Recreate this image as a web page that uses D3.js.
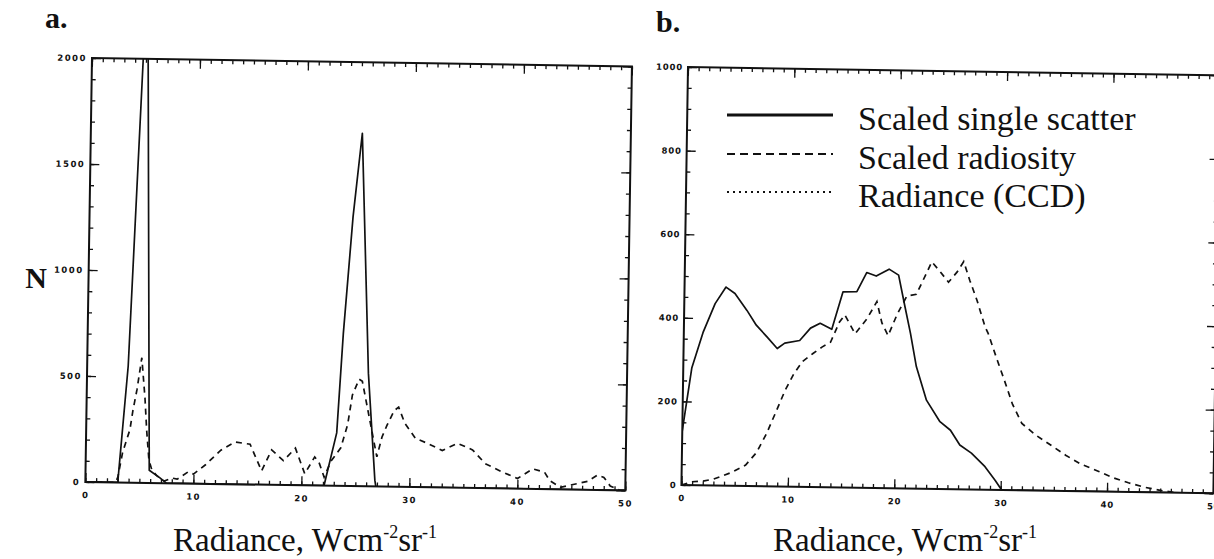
<!DOCTYPE html>
<html>
<head>
<meta charset="utf-8">
<script src="https://cdn.jsdelivr.net/npm/d3@7"></script>
<style>
  html, body { margin: 0; padding: 0; background: #fff; }
  svg { display: block; }
</style>
</head>
<body>
<div id="chart"></div>
<script>
// ---------------- DATA ----------------
const xMajorTicks = [0, 10, 20, 30, 40, 50];
const aYTicks = [0, 500, 1000, 1500, 2000];
const bYTicks = [0, 200, 400, 600, 800, 1000];
const legendLabels = ["Scaled single scatter", "Scaled radiosity", "Radiance (CCD)"];

// Panel a: [radiance, N]
const aSingleScatter = [
  [0, 0], [3.0, 0], [3.8, 550], [5.04, 2450], [5.9, 60], [6.9, 25], [7.5, 0],
  [22.1, 0], [23.2, 250], [23.67, 720], [24.4, 1270], [25.14, 1665], [26.05, 533],
  [26.8, 30], [26.9, 0], [50, 0]
];
const aRadiosity = [
  [0, 0], [2.8, 0], [3.0, 25], [3.4, 140], [4.05, 250], [4.3, 340], [4.65, 440], [5.05, 590],
  [5.4, 400], [5.6, 250], [5.85, 110], [6.15, 60], [6.6, 35], [7.3, 10], [8.0, 25], [8.5, 20],
  [9.5, 55], [10.0, 45], [11.1, 90], [12.5, 160], [13.8, 200], [15.2, 190], [16.3, 65],
  [17.2, 165], [18.3, 115], [19.4, 175], [20.3, 55], [21.2, 135], [21.6, 110], [22.1, 40],
  [22.7, 115], [23.6, 180], [24.2, 290], [24.6, 430], [25.2, 505], [25.5, 495], [26.95, 140],
  [27.4, 234], [27.85, 290], [28.5, 360], [28.9, 376], [29.5, 300], [30.5, 230], [31.6, 208],
  [33.0, 175], [34.4, 210], [35.8, 180], [37.0, 116], [38.5, 80], [40.0, 48], [41.4, 95],
  [42.5, 80], [43.0, 40], [44.0, 10], [46.5, 40], [47.4, 70], [48.0, 60], [48.6, 20],
  [49.5, 0], [50, 0]
];

// Panel b
const bSingleScatter = [
  [0, 130], [0.8, 280], [1.8, 365], [2.9, 435], [3.9, 475], [4.75, 460], [5.9, 420],
  [6.8, 385], [7.8, 358], [8.8, 330], [9.5, 343], [10.9, 350], [11.9, 380], [12.8, 392],
  [13.9, 378], [14.9, 468], [16.2, 469], [17.1, 515], [18.0, 507], [19.2, 524], [20.1, 510],
  [20.75, 434], [21.3, 371], [21.9, 292], [22.9, 212], [24.2, 161], [25.2, 141], [26.1, 106],
  [27.2, 87], [28.5, 55], [29.5, 22], [30.1, 0], [50, 0]
];
const bRadiosity = [
  [0, 0], [1, 8], [2, 10], [3, 15], [4.7, 32], [6.0, 50], [7.0, 80], [7.9, 125], [8.8, 180],
  [9.6, 230], [10.4, 270], [11.2, 300], [12.2, 320], [13.0, 335], [13.8, 347], [14.6, 395],
  [15.1, 413], [16.1, 368], [17.2, 405], [18.1, 446], [18.6, 395], [19.2, 365], [20.0, 415],
  [20.9, 460], [21.8, 465], [22.7, 515], [23.2, 543], [24.0, 520], [24.8, 495], [25.6, 520],
  [26.2, 545], [26.8, 500], [27.5, 453], [28.3, 390], [28.6, 374], [29.5, 310], [30.2, 262],
  [31.0, 205], [31.9, 160], [33.2, 133], [34.6, 110], [36.1, 85], [37.5, 65], [39.2, 48],
  [40.5, 34], [42.0, 22], [43.5, 12], [45.0, 5], [46.5, 0], [50, 0]
];

// ---------------- DRAW ----------------
const W = 1214, H = 559;
const INK = "#111";
const svg = d3.select("#chart").append("svg")
  .attr("width", W).attr("height", H)
  .attr("viewBox", `0 0 ${W} ${H}`);
svg.append("rect").attr("width", W).attr("height", H).attr("fill", "#fff");

function drawPanel(cfg) {
  const g = svg.append("g")
    .attr("transform", `translate(${cfg.left},${cfg.top}) rotate(${cfg.rot})`);
  const x = d3.scaleLinear().domain([0, 50]).range([0, cfg.w]);
  const y = d3.scaleLinear().domain([0, cfg.ymax]).range([cfg.h, 0]);

  const clipId = "clip-" + cfg.id;
  g.append("clipPath").attr("id", clipId)
    .append("rect").attr("x", 0).attr("y", 0).attr("width", cfg.w).attr("height", cfg.h);

  const line = d3.line().x(d => x(d[0])).y(d => y(d[1]));
  const plot = g.append("g").attr("clip-path", `url(#${clipId})`);
  plot.append("path").datum(cfg.solid)
    .attr("d", line).attr("fill", "none").attr("stroke", INK)
    .attr("stroke-width", 1.7).attr("stroke-linejoin", "round");
  plot.append("path").datum(cfg.dashed)
    .attr("d", line).attr("fill", "none").attr("stroke", INK)
    .attr("stroke-width", 1.7).attr("stroke-dasharray", "6,5");

  const minorX = d3.range(0, 51, 1);
  const minorY = d3.range(0, cfg.ymax + 1, cfg.yMinor);

  function styleAxis(sel) {
    sel.select(".domain").remove();
    sel.selectAll("line").attr("stroke", INK).attr("stroke-width", 1.3);
  }
  // minor ticks (inward)
  g.append("g").attr("transform", `translate(0,${cfg.h})`)
    .call(d3.axisBottom(x).tickValues(minorX).tickSize(-4).tickFormat(""))
    .call(styleAxis);
  g.append("g")
    .call(d3.axisTop(x).tickValues(minorX).tickSize(-4).tickFormat(""))
    .call(styleAxis);
  g.append("g")
    .call(d3.axisLeft(y).tickValues(minorY).tickSize(-4).tickFormat(""))
    .call(styleAxis);
  g.append("g").attr("transform", `translate(${cfg.w},0)`)
    .call(d3.axisRight(y).tickValues(minorY).tickSize(-4).tickFormat(""))
    .call(styleAxis);
  // major ticks
  const bottomAx = g.append("g").attr("transform", `translate(0,${cfg.h})`)
    .call(d3.axisBottom(x).tickValues(xMajorTicks).tickSize(-9).tickPadding(10).tickFormat(d3.format("d")))
    .call(styleAxis);
  g.append("g")
    .call(d3.axisTop(x).tickValues(xMajorTicks).tickSize(-9).tickFormat(""))
    .call(styleAxis);
  const leftAx = g.append("g")
    .call(d3.axisLeft(y).tickValues(cfg.yTicks).tickSize(-9).tickPadding(5).tickFormat(d3.format("d")))
    .call(styleAxis);
  g.append("g").attr("transform", `translate(${cfg.w},0)`)
    .call(d3.axisRight(y).tickValues(cfg.yTicks).tickSize(-9).tickFormat(""))
    .call(styleAxis);

  [bottomAx, leftAx].forEach(a => a.selectAll("text")
    .attr("fill", INK)
    .style("font-family", "'DejaVu Sans', sans-serif")
    .style("font-weight", "bold")
    .style("font-size", "8.5px")
    .style("letter-spacing", cfg.lsp));

  // frame
  g.append("rect").attr("x", 0).attr("y", 0).attr("width", cfg.w).attr("height", cfg.h)
    .attr("fill", "none").attr("stroke", INK).attr("stroke-width", 2);
  return { g, x, y };
}

drawPanel({ id: "a", left: 92, top: 58, w: 540, h: 424, rot: 0.9, ymax: 2000, yMinor: 100,
  yTicks: aYTicks, solid: aSingleScatter, dashed: aRadiosity, lsp: "1.5px" });
drawPanel({ id: "b", left: 688, top: 67, w: 532, h: 418, rot: 0.9, ymax: 1000, yMinor: 50,
  yTicks: bYTicks, solid: bSingleScatter, dashed: bRadiosity, lsp: "0.8px" });

// ---------------- TEXT ----------------
const serif = "'Liberation Serif', 'Times New Roman', serif";
svg.append("text").attr("x", 45).attr("y", 28).text("a.")
  .attr("font-family", serif).attr("font-weight", "bold").attr("font-size", 30).attr("fill", INK);
svg.append("text").attr("x", 656).attr("y", 32).text("b.")
  .attr("font-family", serif).attr("font-weight", "bold").attr("font-size", 30).attr("fill", INK);
svg.append("text").attr("x", 36).attr("y", 288).text("N").attr("text-anchor", "middle")
  .attr("font-family", serif).attr("font-weight", "bold").attr("font-size", 30).attr("fill", INK);

function axisTitle(cx) {
  const t = svg.append("text").attr("x", cx).attr("y", 551).attr("text-anchor", "middle")
    .attr("font-family", serif).attr("font-size", 33).attr("fill", INK);
  t.append("tspan").text("Radiance, Wcm");
  t.append("tspan").text("-2").attr("font-size", 18).attr("dy", -13);
  t.append("tspan").text("sr").attr("dy", 13);
  t.append("tspan").text("-1").attr("font-size", 18).attr("dy", -13);
}
axisTitle(305);
axisTitle(905);

// legend
const legendDash = [null, "8,5", "2,4"];
const legendW = [3, 2, 2];
const legendY = [115, 154, 192];
const legendBase = [130, 169, 207];
legendLabels.forEach((lab, i) => {
  svg.append("line").attr("x1", 727).attr("x2", 833).attr("y1", legendY[i]).attr("y2", legendY[i])
    .attr("stroke", INK).attr("stroke-width", legendW[i])
    .attr("stroke-dasharray", legendDash[i]);
  svg.append("text").attr("x", 858).attr("y", legendBase[i]).text(lab)
    .attr("font-family", serif).attr("font-size", 34).attr("fill", INK);
});
</script>
</body>
</html>
